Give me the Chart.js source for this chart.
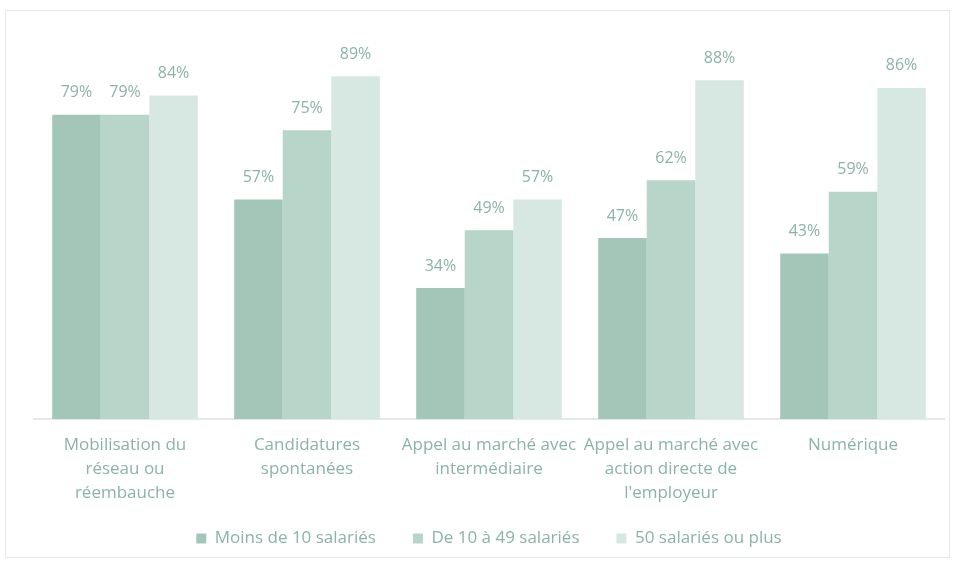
<!DOCTYPE html>
<html>
<head>
<meta charset="utf-8">
<script src="https://cdn.jsdelivr.net/npm/chart.js@4.4.0/dist/chart.umd.min.js"></script>
<style>
  body { margin: 0; background: #fff; }
  #box { position: absolute; left: 5px; top: 10px; width: 943px; height: 546px; border: 1px solid #e3ebe8; }
  canvas { display: block; }
</style>
</head>
<body>
<div id="box"><canvas id="chart" width="943" height="546"></canvas></div>
<script>
// Categories (wrapped the way the reference does it)
const categories = [
    ['Mobilisation du', 'réseau ou', 'réembauche'],
    ['Candidatures', 'spontanées'],
    ['Appel au marché avec', 'intermédiaire'],
    ['Appel au marché avec', 'action directe de', "l'employeur"],
    ['Numérique']
];
const seriesNames = ['Moins de 10 salariés', 'De 10 à 49 salariés', '50 salariés ou plus'];
const moins10 = [79, 57, 34, 47, 43];
const de10a49 = [79, 75, 49, 62, 59];
const plus50 = [84, 89, 57, 88, 86];
const colors = ['#a4c6b9', '#b8d5ca', '#d6e8e1'];

const textColor = '#8db3a4';
const fontFamily = "'Open Sans', 'Noto Sans', sans-serif";

// draws the percent above each bar
const valueLabels = {
    id: 'valueLabels',
    afterDatasetsDraw(chart) {
        const ctx = chart.ctx;
        ctx.save();
        ctx.fillStyle = textColor;
        ctx.font = '16px ' + fontFamily;
        ctx.textAlign = 'center';
        ctx.textBaseline = 'middle';
        chart.data.datasets.forEach((ds, i) => {
            chart.getDatasetMeta(i).data.forEach((bar, j) => {
                ctx.fillText(ds.data[j] + '%', bar.x, bar.y - 22);
            });
        });
        ctx.restore();
    }
};

new Chart(document.getElementById('chart'), {
    type: 'bar',
    data: {
        labels: categories,
        datasets: [
            { label: seriesNames[0], data: moins10, backgroundColor: colors[0] },
            { label: seriesNames[1], data: de10a49, backgroundColor: colors[1] },
            { label: seriesNames[2], data: plus50, backgroundColor: colors[2] }
        ]
    },
    options: {
        responsive: false,
        animation: false,
        layout: { padding: { left: 28, right: 5, top: 23, bottom: 0 } },
        datasets: { bar: { categoryPercentage: 0.8, barPercentage: 1.0 } },
        scales: {
            y: { display: false, min: 0, max: 100 },
            x: {
                grid: { display: false },
                border: { color: '#e2e9e6', width: 2 },
                ticks: {
                    color: textColor,
                    font: { family: fontFamily, size: 17, lineHeight: 24 / 17 },
                    maxRotation: 0,
                    padding: 6
                },
                afterFit(scale) {
                    // pull the legend up closer to the labels, without clipping them
                    scale.height -= 18;
                    scale._computeLabelArea = () => undefined;
                }
            }
        },
        plugins: {
            legend: {
                position: 'bottom',
                labels: {
                    color: textColor,
                    font: { family: fontFamily, size: 17 },
                    boxWidth: 10,
                    boxHeight: 10,
                    padding: 37
                }
            },
            tooltip: { enabled: false }
        }
    },
    plugins: [valueLabels]
});
</script>
</body>
</html>
